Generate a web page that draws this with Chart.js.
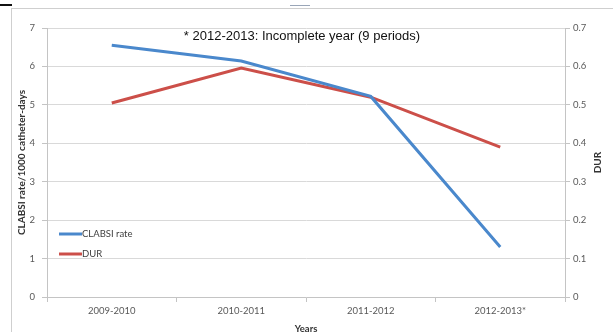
<!DOCTYPE html>
<html>
<head>
<meta charset="utf-8">
<script src="https://cdn.jsdelivr.net/npm/chart.js@4"></script>
<style>
  html, body { margin: 0; padding: 0; background: #fff; }
  #wrap { position: relative; width: 613px; height: 332px; overflow: hidden; }
  #frame { position: absolute; left: 11px; top: 8px; width: 800px; height: 600px; border: 1px solid #cfcfcf; }
  #topline { position: absolute; left: 0; top: 4px; width: 12px; height: 2px; background: #111; }
  #topmark { position: absolute; left: 290px; top: 5px; width: 20px; height: 1px; background: #9aa6b8; }
  canvas { position: absolute; left: 0; top: 0; }
</style>
</head>
<body>
<div id="wrap">
  <div id="frame"></div>
  <div id="topline"></div>
  <div id="topmark"></div>
  <canvas id="c" width="613" height="332"></canvas>
</div>
<script>
const categories = ["2009-2010", "2010-2011", "2011-2012", "2012-2013*"];
const clabsiRate = [6.55, 6.14, 5.22, 1.30];
const durValues = [0.505, 0.596, 0.52, 0.39];
const seriesNames = ["CLABSI rate", "DUR"];
const leftTicks = [0, 1, 2, 3, 4, 5, 6, 7];
const rightTicks = [0, 0.1, 0.2, 0.3, 0.4, 0.5, 0.6, 0.7];
const leftTitle = "CLABSI rate/1000 catheter-days";
const rightTitle = "DUR";
const xTitle = "Years";
const noteText = "* 2012-2013: Incomplete year (9 periods)";

const BLUE = "#4a88cc";
const RED = "#cc4f49";
const GRID = "#d9d9d9";
const AXIS = "#c4c4c4";
const TICKC = "#595959";
const FONT = "Lato, 'Open Sans', sans-serif";

const overlay = {
  id: "overlay",
  afterDraw(chart) {
    const ctx = chart.ctx;
    const a = chart.chartArea;
    ctx.save();
    // note text
    ctx.fillStyle = "#111";
    ctx.font = "13px 'Liberation Sans', Arial, sans-serif";
    ctx.textAlign = "center";
    ctx.textBaseline = "middle";
    ctx.fillText(noteText, a.left + 255, a.top + 8);
    // right axis title (bottom-to-top)
    ctx.font = "bold 10px " + FONT;
    ctx.fillStyle = "#333";
    ctx.translate(598, (a.top + a.bottom) / 2);
    ctx.rotate(-Math.PI / 2);
    ctx.fillText(rightTitle, 0, 0);
    ctx.restore();
    // legend
    ctx.save();
    const lx = a.left + 12;
    const ys = [a.top + 206, a.top + 226];
    chart.data.datasets.forEach((ds, i) => {
      ctx.strokeStyle = ds.borderColor;
      ctx.lineWidth = 3;
      ctx.beginPath();
      ctx.moveTo(lx, ys[i]);
      ctx.lineTo(lx + 23, ys[i]);
      ctx.stroke();
      ctx.fillStyle = "#404040";
      ctx.font = "9.5px " + FONT;
      ctx.textAlign = "left";
      ctx.textBaseline = "middle";
      ctx.fillText(ds.label, lx + 23, ys[i]);
    });
    ctx.restore();
  }
};

new Chart(document.getElementById("c"), {
  type: "line",
  data: {
    labels: categories,
    datasets: [
      { label: seriesNames[0], data: clabsiRate, yAxisID: "y", borderColor: BLUE, backgroundColor: BLUE, borderWidth: 3, pointRadius: 0, tension: 0 },
      { label: seriesNames[1], data: durValues, yAxisID: "y1", borderColor: RED, backgroundColor: RED, borderWidth: 3, pointRadius: 0, tension: 0 }
    ]
  },
  options: {
    responsive: false,
    animation: false,
    layout: { padding: { left: 12, top: 28, right: 0, bottom: 0 } },
    plugins: { legend: { display: false }, tooltip: { enabled: false } },
    scales: {
      x: {
        offset: true,
        grid: { offset: true, drawOnChartArea: false, drawTicks: true, tickLength: 5, color: AXIS },
        border: { color: AXIS },
        ticks: { color: TICKC, font: { family: FONT, size: 9.5 }, padding: 3, maxRotation: 0 },
        title: { display: true, text: xTitle, color: "#333", font: { family: FONT, size: 9.5, weight: "bold", lineHeight: 0.6 }, padding: { top: 0, bottom: 0 } },
        afterFit(s) { s.height = 35; }
      },
      y: {
        position: "left",
        min: 0, max: 7,
        afterBuildTicks(s) { s.ticks = leftTicks.map(v => ({ value: v })); },
        grid: { color: GRID, tickLength: 5, tickColor: AXIS },
        border: { color: AXIS },
        ticks: { color: TICKC, font: { family: FONT, size: 9.5 }, padding: 7 },
        title: { display: true, text: leftTitle, color: "#333", font: { family: FONT, size: 10, weight: "bold" }, padding: { top: 4, bottom: 0 } },
        afterFit(s) { s.width = 35; }
      },
      y1: {
        position: "right",
        min: 0, max: 0.7,
        afterBuildTicks(s) { s.ticks = rightTicks.map(v => ({ value: v })); },
        grid: { drawOnChartArea: false, tickLength: 5, color: AXIS },
        border: { color: AXIS },
        ticks: { color: TICKC, font: { family: FONT, size: 9.5 }, padding: 3, callback: v => String(Math.round(v * 10) / 10) },
        afterFit(s) { s.width = 48; }
      }
    }
  },
  plugins: [overlay]
});
</script>
</body>
</html>
